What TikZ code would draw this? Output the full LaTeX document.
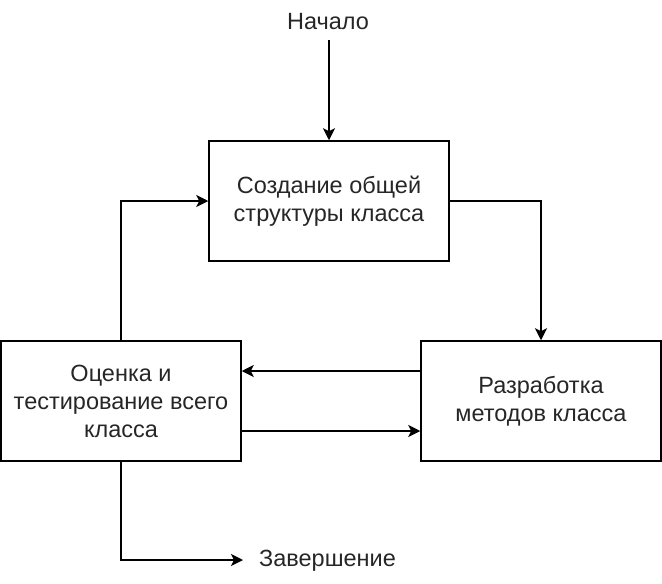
\documentclass[tikz,border=0pt]{standalone}
\usepackage{fontspec}
\setmainfont{Liberation Sans}
\usetikzlibrary{arrows.meta}
\begin{document}
\begin{tikzpicture}[x=1pt,y=-1pt,
  blk/.style={draw,line width=1.5pt,minimum width=240pt,minimum height=120pt,align=center,inner sep=0pt,text=black!85,font=\fontsize{23.5}{28}\selectfont},
  lbl/.style={inner sep=0pt,text=black!85,font=\fontsize{23.5}{28}\selectfont},
  conn/.style={line width=1.5pt,-{Triangle[length=12pt,width=12pt,inset=3pt]}}]
\useasboundingbox (0,0) rectangle (662,584);
\node[blk] (top) at (329,201) {Создание общей\\структуры класса};
\node[blk] (left) at (121,401) {Оценка и\\тестирование всего\\класса};
\node[blk] (right) at (541,401) {Разработка\\методов класса};
\node[lbl] (start) at (328,22) {Начало};
\node[lbl,anchor=west] (end) at (259,561) {Завершение};
\coordinate (s) at (329,40);
\coordinate (e) at (243,560);
\draw[conn] (s) -- (top.north);
\draw[conn] (top.east) -| (right.north);
\draw[conn] (right.west |- 0,371) -- (left.east |- 0,371);
\draw[conn] (left.east |- 0,431) -- (right.west |- 0,431);
\draw[conn] (left.north) |- (top.west);
\draw[conn] (left.south) |- (e);
\end{tikzpicture}
\end{document}
